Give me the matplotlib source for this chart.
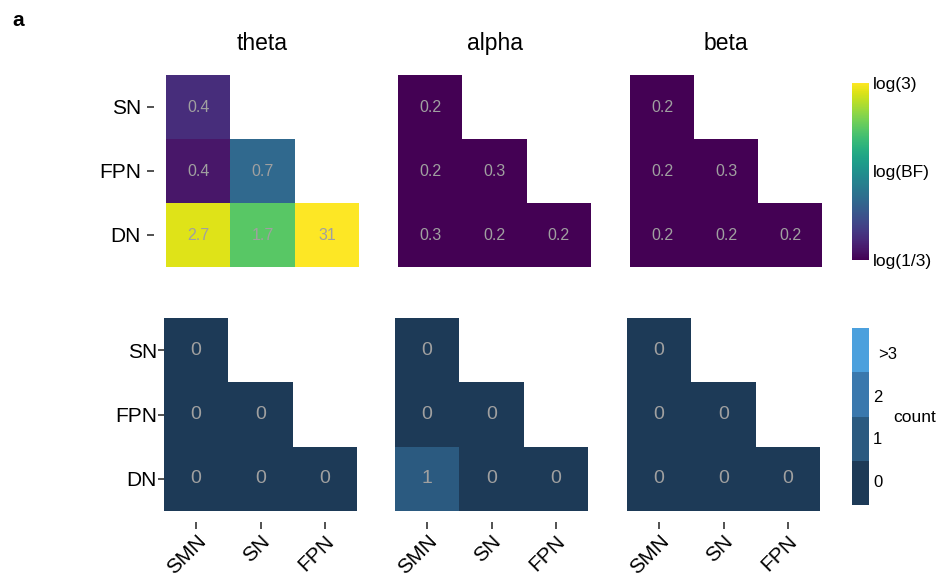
import numpy as np
import matplotlib
matplotlib.use("Agg")
import matplotlib.pyplot as plt
from matplotlib.colors import ListedColormap, BoundaryNorm, Normalize
import matplotlib.colorbar as mcolorbar

plt.rcParams['font.family'] = ['Liberation Sans', 'DejaVu Sans']

# Networks: rows (top to bottom) and columns (left to right)
row_labels = ["SN", "FPN", "DN"]
col_labels = ["SMN", "SN", "FPN"]
bands = ["theta", "alpha", "beta"]

# Bayes factors, lower triangle (row by row)
bf_theta = [[0.44], [0.38, 0.7], [2.7, 1.7, 31]]
bf_alpha = [[0.2], [0.2, 0.3], [0.3, 0.2, 0.2]]
bf_beta = [[0.2], [0.2, 0.3], [0.2, 0.2, 0.2]]

# Counts, lower triangle (row by row)
cnt_theta = [[0], [0, 0], [0, 0, 0]]
cnt_alpha = [[0], [0, 0], [1, 0, 0]]
cnt_beta = [[0], [0, 0], [0, 0, 0]]

count_labels = ["0", "1", "2", ">3"]
count_colors = ["#1d3a57", "#2b5a80", "#3a78ad", "#4ba0dd"]

W, H = 941, 574
fig = plt.figure(figsize=(W / 100, H / 100), dpi=100)


def rect(x0, x1, y0, y1):
    return [x0 / W, 1 - y1 / H, (x1 - x0) / W, (y1 - y0) / H]


def to_matrix(tri):
    m = np.full((3, 3), np.nan)
    for i, row in enumerate(tri):
        for j, v in enumerate(row):
            m[i, j] = v
    return np.ma.masked_invalid(m)


def fmt(v):
    return f"{v:.1f}" if v < 10 else f"{v:.0f}"


lo, hi = np.log(1 / 3), np.log(3)
bf_norm = Normalize(vmin=lo, vmax=hi, clip=True)
cnt_cmap = ListedColormap(count_colors)
cnt_norm = BoundaryNorm([-0.5, 0.5, 1.5, 2.5, 3.5], cnt_cmap.N)

top_x = [(166, 359), (398, 591), (630, 822)]
bot_x = [(164, 357), (395, 588), (627, 820)]
top_y = (75, 267)
bot_y = (318, 511)

tick_col = "#333333"

for k, (band, bf, cnt) in enumerate(zip(bands, [bf_theta, bf_alpha, bf_beta],
                                       [cnt_theta, cnt_alpha, cnt_beta])):
    # Bayes factor panel
    ax = fig.add_axes(rect(*top_x[k], *top_y))
    m = to_matrix(bf)
    ax.pcolormesh(np.arange(4) - 0.5, np.arange(4) - 0.5, np.ma.log(m),
                  cmap="viridis", norm=bf_norm)
    for i, row in enumerate(bf):
        for j, v in enumerate(row):
            ax.text(j, i, fmt(v), ha="center", va="center", color="#a0a0a0",
                    fontsize=11.5)
    ax.set_xlim(-0.5, 2.5)
    ax.set_ylim(2.5, -0.5)
    for s in ax.spines.values():
        s.set_visible(False)
    ax.set_xticks([])
    if k == 0:
        ax.spines['left'].set_position(('outward', 9))
        ax.set_yticks(range(3))
        ax.set_yticklabels(row_labels, fontsize=15)
        ax.tick_params(axis="y", length=5, width=1.2, color=tick_col, pad=4)
    else:
        ax.set_yticks([])
    ax.set_title(band, fontsize=16.5, pad=18)

    # Count panel
    ax2 = fig.add_axes(rect(*bot_x[k], *bot_y))
    c = to_matrix(cnt)
    ax2.pcolormesh(np.arange(4) - 0.5, np.arange(4) - 0.5, c,
                   cmap=cnt_cmap, norm=cnt_norm)
    for i, row in enumerate(cnt):
        for j, v in enumerate(row):
            ax2.text(j, i, str(v), ha="center", va="center", color="#a0a0a0",
                     fontsize=14)
    ax2.set_xlim(-0.5, 2.5)
    ax2.set_ylim(2.5, -0.5)
    for s in ax2.spines.values():
        s.set_visible(False)
    ax2.spines['bottom'].set_position(('outward', 8))
    ax2.set_xticks(range(3))
    ax2.set_xticklabels(col_labels, fontsize=15, rotation=45, ha="right",
                        rotation_mode="anchor")
    ax2.tick_params(axis="x", length=5, width=1.2, color=tick_col, pad=2)
    if k == 0:
        ax2.set_yticks(range(3))
        ax2.set_yticklabels(row_labels, fontsize=15)
        ax2.tick_params(axis="y", length=4, width=1.2, color=tick_col, pad=1)
    else:
        ax2.set_yticks([])

# Bayes factor colour bar
cax = fig.add_axes(rect(852, 869, 83, 260))
cb = mcolorbar.ColorbarBase(cax, cmap=plt.get_cmap("viridis"), norm=bf_norm,
                            orientation="vertical")
cb.outline.set_visible(False)
cb.set_ticks([lo, 0, hi])
cb.set_ticklabels(["log(1/3)", "log(BF)", "log(3)"])
cax.tick_params(length=0, labelsize=12.5, pad=3)

# Count legend
lax = fig.add_axes(rect(852, 869, 328, 505))
cb2 = mcolorbar.ColorbarBase(lax, cmap=cnt_cmap, norm=cnt_norm,
                             orientation="vertical")
cb2.outline.set_visible(False)
cb2.set_ticks([])
cb2.minorticks_off()
lax.tick_params(which="both", length=0, labelright=False, labelleft=False)
for v, lab in enumerate(count_labels):
    dx = 6.5 if lab.startswith(">") else 3
    lax.annotate(lab, xy=(1, v * 0.97), xycoords=("axes fraction", "data"),
                 xytext=(dx, 0), textcoords="offset points",
                 ha="left", va="center", fontsize=12)
fig.text(893 / W, 1 - 418 / H, "count", ha="left", va="center", fontsize=12.5)

# Panel letter
fig.text(12 / W, 1 - 20 / H, "a", ha="left", va="center", fontsize=15,
         fontweight="bold")

fig.savefig("out.png", dpi=100)
